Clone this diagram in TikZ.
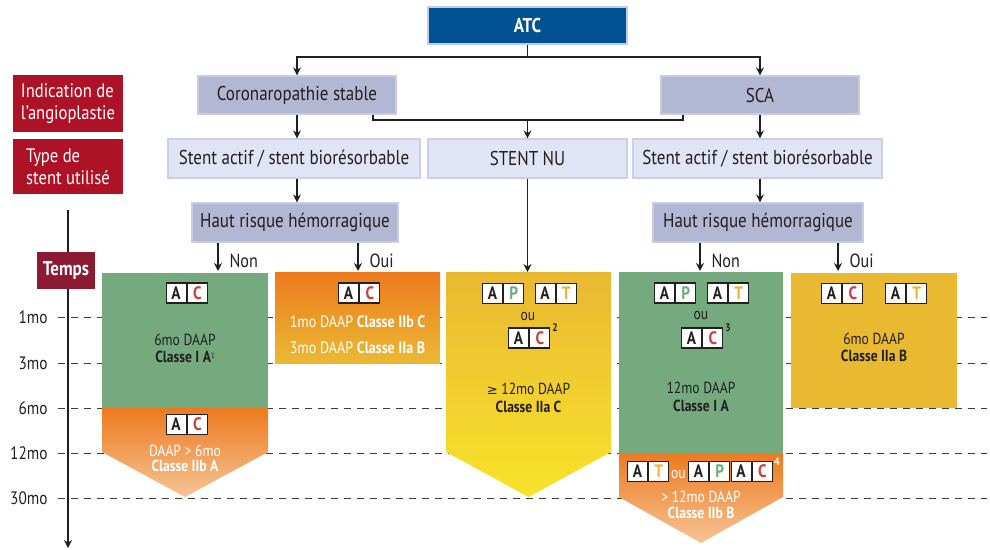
\documentclass[tikz,border=0pt]{standalone}
\usepackage{fontspec}
\setmainfont{PT Sans}[FakeStretch=0.85]
\newfontfamily\symfont{DejaVu Sans}
\usetikzlibrary{arrows.meta,positioning}
\definecolor{ink}{RGB}{35,31,32}
\definecolor{atcblue}{RGB}{0,82,147}
\definecolor{atcborder}{RGB}{190,205,232}
\definecolor{boxgrey}{RGB}{178,184,211}
\definecolor{boxgreyb}{RGB}{200,205,228}
\definecolor{boxlight}{RGB}{225,228,244}
\definecolor{boxlightb}{RGB}{203,208,232}
\definecolor{redlab}{RGB}{174,18,38}
\definecolor{tempsred}{RGB}{140,26,51}
\definecolor{blkgreen}{RGB}{116,170,126}
\definecolor{orangetop}{RGB}{237,122,30}
\definecolor{peach}{RGB}{246,196,150}
\definecolor{yellowtop}{RGB}{233,184,50}
\definecolor{yellowbot}{RGB}{249,227,42}
\definecolor{ocre}{RGB}{234,185,50}
\definecolor{letterC}{RGB}{200,64,58}
\definecolor{letterP}{RGB}{110,172,126}
\definecolor{letterT}{RGB}{232,181,58}
\definecolor{dashgrey}{RGB}{60,60,60}
\newcommand\duo[5]{%
  \node[cell, anchor=west] (#1a) at (#2,#3) {A};
  \node[cell, anchor=west] (#1b) at (#1a.east) {\textcolor{#5}{#4}};
}
\newcommand\supnum[1]{\raisebox{3.5pt}{\fontsize{8}{8}\selectfont #1}}
\begin{document}
\begin{tikzpicture}[x=1pt,y=-1pt,
  flowbox/.style={inner sep=0pt, font=\fontsize{20}{22}\selectfont, text=ink, line width=1.2pt},
  greybox/.style={flowbox, fill=boxgrey, draw=boxgreyb},
  lightbox/.style={flowbox, fill=boxlight, draw=boxlightb},
  redbox/.style={inner sep=0pt, fill=redlab, text=white, align=left, font=\fontsize{19.5}{22}\selectfont, minimum width=110pt},
  conn/.style={draw=ink, line width=1.3pt},
  arr/.style={conn, -{Stealth[length=8pt,width=8pt]}},
  cell/.style={draw=ink, line width=1.2pt, fill=white, minimum width=20pt, minimum height=20pt, inner sep=0pt, font=\fontsize{18}{18}\selectfont\bfseries, text=ink},
  blktext/.style={align=center, font=\fontsize{16}{17}\selectfont, text=ink},
  whitetext/.style={align=center, font=\fontsize{16}{15.5}\selectfont, text=white},
  ticklab/.style={anchor=east, font=\fontsize{18}{18}\selectfont, text=ink},
  branchlab/.style={anchor=west, font=\fontsize{19}{19}\selectfont, text=ink},
  timedash/.style={draw=dashgrey, line width=1pt, dash pattern=on 7pt off 6pt}]
\useasboundingbox (0,0) rectangle (990,549);

% ---- time axis and dashed lines
\coordinate (axtop) at (68,210);
\coordinate (axbot) at (68,548);
\draw[arr] (axtop) -- (axbot);
\foreach \y/\lab/\nm in {317/1mo/t1, 363/3mo/t3, 408/6mo/t6, 453/12mo/t12, 498/30mo/t30}{
  \node[ticklab] (\nm) at (51,\y) {\lab};
  \coordinate (\nm s) at (58,\y);
  \coordinate (\nm e) at (987,\y);
  \draw[timedash] (\nm s) -- (\nm e);
}

% ---- left labels
\node[redbox, minimum height=57pt] (ind) at (68,103.5) {Indication de\\l'angioplastie};
\node[redbox, minimum height=55pt] (typ) at (68,166.5) {Type de\\stent utilisé};
\node[inner sep=0pt, fill=tempsred, text=white, minimum width=58pt, minimum height=37pt,
      font=\fontsize{20}{20}\selectfont\bfseries] (temps) at (66,270.5) {Temps};

% ---- flow boxes
\node[flowbox, fill=atcblue, draw=atcborder, text=white, font=\fontsize{20}{20}\selectfont\bfseries,
      minimum width=199pt, minimum height=37pt] (atc) at (527.5,25.5) {ATC};
\node[greybox, minimum width=198pt, minimum height=38pt] (coro) at (297,95) {Coronaropathie stable};
\node[greybox, minimum width=198pt, minimum height=38pt] (sca) at (760,95) {SCA};
\node[lightbox, minimum width=252pt, minimum height=39pt] (st1) at (294,158.5) {Stent actif / stent biorésorbable};
\node[lightbox, minimum width=199pt, minimum height=39pt] (stnu) at (527.5,158.5) {STENT NU};
\node[lightbox, minimum width=249pt, minimum height=39pt] (st2) at (757.5,158.5) {Stent actif / stent biorésorbable};
\node[greybox, minimum width=206pt, minimum height=39pt] (hr1) at (295,222.5) {Haut risque hémorragique};
\node[greybox, minimum width=210pt, minimum height=39pt] (hr2) at (758,222.5) {Haut risque hémorragique};

% ---- connectors top
\coordinate (j0) at (527.5,57);
\coordinate (jl) at (297,57);
\coordinate (jr) at (760,57);
\draw[conn] (atc.south) -- (j0);
\draw[arr] (j0) -- (jl) -- (coro.north);
\draw[arr] (j0) -- (jr) -- (sca.north);
\draw[arr] (coro.south) -- (coro.south |- st1.north);
\draw[arr] (st1.south -| coro.south) -- (hr1.north -| coro.south);
\draw[arr] (sca.south) -- (sca.south |- st2.north);
\draw[arr] (st2.south -| sca.south) -- (hr2.north -| sca.south);
\coordinate (kl) at (373,120);
\coordinate (kr) at (683,120);
\draw[conn] (coro.south -| kl) -- (kl) -- (kr) -- (sca.south -| kr);
\draw[arr] (stnu.north |- kl) -- (stnu.north);

% ---- blocks
\fill[blkgreen] (102,273) rectangle (268,408);
\shade[top color=orangetop, bottom color=peach] (102,408) -- (268,408) -- (268,452) -- (185,497) -- (102,452) -- cycle;
\shade[top color=orangetop, bottom color=ocre] (275,272) rectangle (440,363);
\shade[top color=yellowtop, bottom color=yellowbot] (446,272) -- (611,272) -- (611,452) -- (528.5,497) -- (446,452) -- cycle;
\fill[blkgreen] (619,272) rectangle (783,453);
\shade[top color=orangetop, bottom color=peach] (619,453) -- (783,453) -- (783,497) -- (701,543) -- (619,497) -- cycle;
\fill[ocre] (791,273) rectangle (957,408);

% ---- block entry arrows
\coordinate (nutop) at (527.5,272);
\draw[arr] (stnu.south) -- (nutop);
\coordinate (n1) at (218,271);
\coordinate (o1) at (358,271);
\coordinate (n2) at (700,271);
\coordinate (o2) at (838,271);
\draw[arr] (hr1.south -| n1) -- (n1);
\draw[arr] (hr1.south -| o1) -- (o1);
\draw[arr] (hr2.south -| n2) -- (n2);
\draw[arr] (hr2.south -| o2) -- (o2);
\node[branchlab] (nonl) at (226,261) {Non};
\node[branchlab] (ouil) at (366,261) {Oui};
\node[branchlab] (nonr) at (708,261) {Non};
\node[branchlab] (ouir) at (846,261) {Oui};

% ---- badges
\duo{ga}{165.5}{293}{C}{letterC}
\duo{oa}{165.5}{424.5}{C}{letterC}
\duo{ua}{338}{293}{C}{letterC}
\duo{np}{482}{293.5}{P}{letterP}
\duo{nt}{534.5}{293.5}{T}{letterT}
\duo{nc}{508}{338}{C}{letterC}
\duo{gp}{654}{293}{P}{letterP}
\duo{gt}{707}{293}{T}{letterT}
\duo{gc}{681}{338}{C}{letterC}
\duo{rt}{627}{471.5}{T}{letterT}
\duo{rp}{688}{471.5}{P}{letterP}
\duo{rc}{730.5}{471.5}{C}{letterC}
\duo{va}{821}{293.5}{C}{letterC}
\duo{vt}{885}{293.5}{T}{letterT}

\node[blktext] (ou1) at (528,316) {ou};
\node[blktext, font=\fontsize{11}{11}\selectfont\bfseries] (s2) at (555,328) {2};
\node[blktext] (ou2) at (701,315) {ou};
\node[blktext, font=\fontsize{11}{11}\selectfont\bfseries] (s3) at (728,328) {3};
\node[blktext, text=white] (ou3) at (678.5,474) {ou};
\node[blktext, text=white, font=\fontsize{11}{11}\selectfont\bfseries] (s4) at (777,462) {4};

% ---- block texts
\node[blktext] (tg1) at (185,348) {6mo DAAP\\\textbf{Classe I A}\supnum{1}};
\node[whitetext] (to1) at (185,458.5) {DAAP > 6mo\\\textbf{Classe IIb A}};
\node[whitetext, font=\fontsize{16.5}{26}\selectfont] (tu1) at (357.5,335) {1mo DAAP \textbf{Classe IIb C}\\3mo DAAP \textbf{Classe IIa B}};
\node[blktext, font=\fontsize{16}{18}\selectfont] (tn1) at (528.5,398) {{\symfont\fontsize{13}{13}\selectfont ≥} 12mo DAAP\\\textbf{Classe IIa C}};
\node[blktext, font=\fontsize{16}{18}\selectfont] (tg2) at (701,397) {12mo DAAP\\\textbf{Classe I A}};
\node[whitetext] (tr2) at (701,505) {> 12mo DAAP\\\textbf{Classe IIb B}};
\node[blktext] (tv2) at (874,347) {6mo DAAP\\\textbf{Classe IIa B}};
\end{tikzpicture}
\end{document}
